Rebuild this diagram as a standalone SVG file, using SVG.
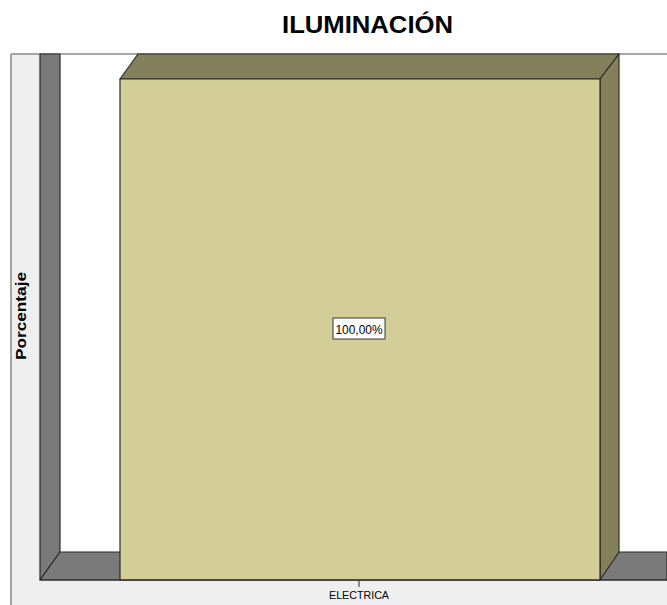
<svg xmlns="http://www.w3.org/2000/svg" width="667" height="605" viewBox="0 0 667 605">
<style>
.edge{stroke:#2a2a2a;stroke-width:1.2;stroke-linejoin:round}
.wall{fill:#7a7a7a}
.front{fill:#d3cd98}
.side{fill:#84805c}
.lbl{font-family:"Liberation Sans",Arial,sans-serif;fill:#000}
</style>
<rect width="667" height="605" fill="#ffffff"/>
<g id="frame">
<rect x="11" y="54" width="29" height="551" fill="#efefef"/>
<rect x="11" y="580" width="656" height="25" fill="#efefef"/>
<line x1="11" y1="54" x2="667" y2="54" stroke="#8a8a8a" stroke-width="1.5"/>
<line x1="11" y1="54" x2="11" y2="605" stroke="#8a8a8a" stroke-width="1.5"/>
</g>
<g id="walls">
<polygon class="wall edge" points="40,54 60,54 60,552 40,580"/>
<polygon class="wall edge" points="40,580 60,552 667,552 667,580"/>
</g>
<g id="bar">
<polygon class="side edge" points="120,79 138,54 619,54 600,79"/>
<polygon class="side edge" points="600,79 619,54 619,552 600,580"/>
<rect class="front edge" x="120" y="79" width="480" height="501"/>
</g>
<g id="axis">
<line x1="40" y1="580" x2="667" y2="580" stroke="#2a2a2a" stroke-width="1.2"/>
<line x1="359" y1="580" x2="359" y2="587" stroke="#2a2a2a" stroke-width="1"/>
<text class="lbl" x="359" y="599" font-size="10.5" text-anchor="middle" textLength="60" lengthAdjust="spacingAndGlyphs">ELECTRICA</text>
<text class="lbl" x="0" y="0" font-size="15" font-weight="bold" text-anchor="middle" textLength="88" lengthAdjust="spacingAndGlyphs" transform="translate(26,316) rotate(-90)">Porcentaje</text>
</g>
<g id="value-label">
<rect x="333" y="318" width="52" height="21" fill="#ffffff" stroke="#333" stroke-width="1"/>
<text class="lbl" x="359" y="333.5" font-size="12" text-anchor="middle" textLength="47" lengthAdjust="spacingAndGlyphs">100,00%</text>
</g>
<g id="title">
<text class="lbl" x="367.5" y="33" font-size="24" font-weight="bold" text-anchor="middle" font-family="'Open Sans','Liberation Sans',sans-serif" textLength="171" lengthAdjust="spacingAndGlyphs">ILUMINACIÓN</text>
</g>
</svg>
